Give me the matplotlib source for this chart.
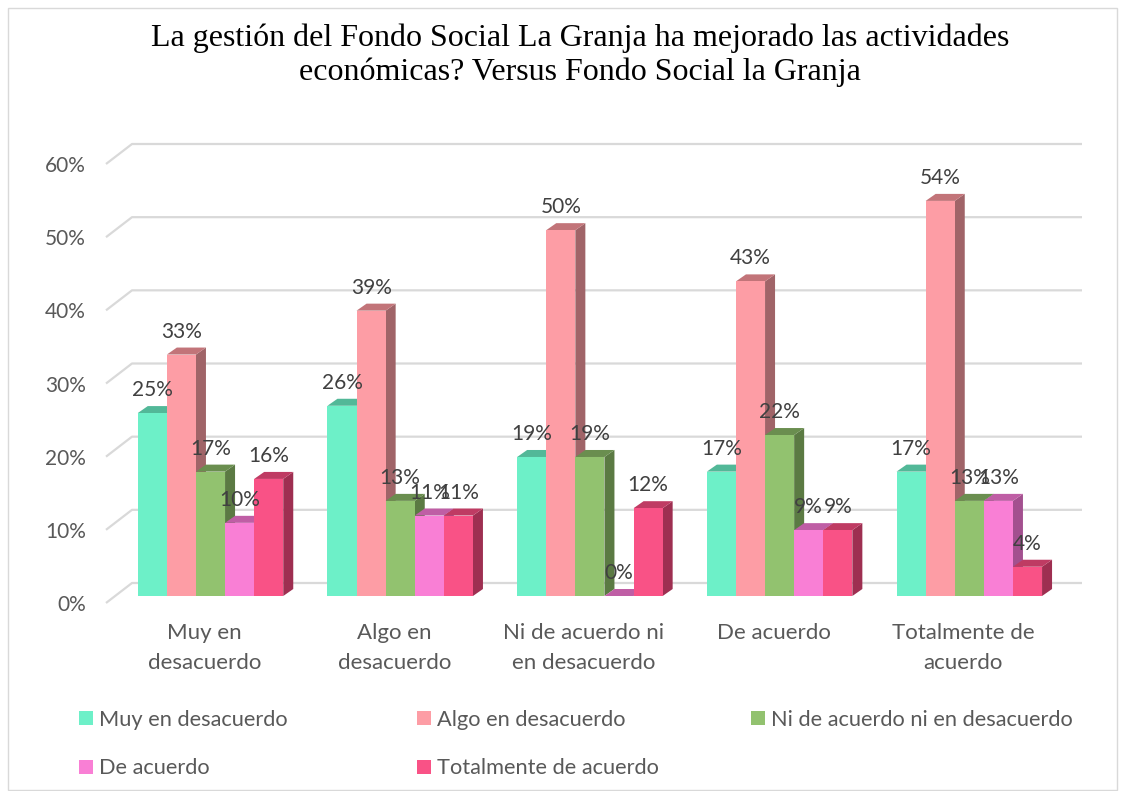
import matplotlib
matplotlib.use("Agg")
import matplotlib.pyplot as plt
from matplotlib.patches import Polygon, Rectangle, Patch
import matplotlib.transforms as mtransforms

# ---------------- data ----------------
title = "La gestión del Fondo Social La Granja ha mejorado las actividades\neconómicas? Versus Fondo Social la Granja"
categories = ["Muy en\ndesacuerdo", "Algo en\ndesacuerdo", "Ni de acuerdo ni\nen desacuerdo",
              "De acuerdo", "Totalmente de\nacuerdo"]
series_names = ["Muy en desacuerdo", "Algo en desacuerdo", "Ni de acuerdo ni en desacuerdo",
                "De acuerdo", "Totalmente de acuerdo"]
muy_en_desacuerdo = [25, 26, 19, 17, 17]
algo_en_desacuerdo = [33, 39, 50, 43, 54]
ni_de_acuerdo = [17, 13, 19, 22, 13]
de_acuerdo = [10, 11, 0, 9, 13]
totalmente_de_acuerdo = [16, 11, 12, 9, 4]
series_values = [muy_en_desacuerdo, algo_en_desacuerdo, ni_de_acuerdo, de_acuerdo, totalmente_de_acuerdo]
y_ticks = [0, 10, 20, 30, 40, 50, 60]

# ---------------- style ----------------
front_colors = ["#6DF0C8", "#FD9DA5", "#92C26F", "#F97FD5", "#F95286"]
top_colors = ["#52B898", "#C27479", "#6A8E4F", "#BF5EA5", "#BF3B63"]
side_colors = ["#4A9E86", "#A06468", "#5B7A43", "#A3508F", "#9E2F51"]
grid_color = "#D9D9D9"
text_gray = "#595959"
label_dark = "#404040"
FONT = "Lato"

W, H, DPI = 1123, 791, 100
fig = plt.figure(figsize=(W / DPI, H / DPI), dpi=DPI)
fig.patch.set_facecolor("white")

# axes placement in pixels (bar front plane)
ax_left_px, ax_right_px = 115, 1065
ax_bottom_px, ax_top_px = 596, 157  # from top of image
ax = fig.add_axes([ax_left_px / W, (H - ax_bottom_px) / H,
                   (ax_right_px - ax_left_px) / W, (ax_bottom_px - ax_top_px) / H])
center0_px, group_step_px = 210.5, 189.7
xlim0 = (ax_left_px - center0_px) / group_step_px
xlim1 = (ax_right_px - center0_px) / group_step_px
ax.set_xlim(xlim0, xlim1)
ax.set_ylim(0, 60)
for s in ax.spines.values():
    s.set_visible(False)
ax.set_facecolor("none")

# pixel -> data conversion
px_x = (xlim1 - xlim0) / (ax_right_px - ax_left_px)
px_y = 60.0 / (ax_bottom_px - ax_top_px)
def dxd(p):
    return p * px_x
def dyd(p):
    return p * px_y

# depth offsets (pixels)
DEPTH_X, DEPTH_Y = 10, 7
FRONT_X, FRONT_Y = -9, -7
BACK_X, BACK_Y = 17, 13

# gridlines (3D wall)
for v in y_ticks:
    xs = [xlim0 + dxd(FRONT_X), xlim0 + dxd(BACK_X), xlim1 + dxd(BACK_X)]
    ys = [v + dyd(FRONT_Y), v + dyd(BACK_Y), v + dyd(BACK_Y)]
    ax.plot(xs, ys, color=grid_color, lw=1.6, zorder=0.5, clip_on=False,
            solid_capstyle="butt")

# bars
n = len(series_values)
bw = 29.1 * px_x
for k, vals in enumerate(series_values):
    xpos = [i + (k - (n - 1) / 2) * bw for i in range(len(categories))]
    z = 2 + k
    ax.bar(xpos, vals, width=bw, color=front_colors[k], zorder=z + 0.2,
           clip_on=False, linewidth=0)
    for x, v in zip(xpos, vals):
        xl, xr = x - bw / 2, x + bw / 2
        ddx, ddy = dxd(DEPTH_X), dyd(DEPTH_Y)
        top = Polygon([(xl, v), (xr, v), (xr + ddx, v + ddy), (xl + ddx, v + ddy)],
                      closed=True, facecolor=top_colors[k], edgecolor="none",
                      zorder=z + 0.1, clip_on=False)
        side = Polygon([(xr, 0), (xr, v), (xr + ddx, v + ddy), (xr + ddx, ddy)],
                       closed=True, facecolor=side_colors[k], edgecolor="none",
                       zorder=z, clip_on=False)
        ax.add_patch(side)
        ax.add_patch(top)
        ax.annotate(f"{v}%", (x, v), xytext=(0, 13), textcoords="offset pixels",
                    ha="center", va="bottom", fontsize=15, color=label_dark,
                    family=FONT, zorder=20, annotation_clip=False)

# y ticks
ax.set_yticks(y_ticks)
ax.set_yticklabels([f"{v}%" for v in y_ticks], fontsize=15, color=text_gray, family=FONT)
ax.tick_params(axis="y", length=0, pad=(ax_left_px - 86) * 0.72)
shift_y = mtransforms.ScaledTranslation(0, -7 / DPI, fig.dpi_scale_trans)
for lab in ax.get_yticklabels():
    lab.set_transform(lab.get_transform() + shift_y)

# x ticks
ax.set_xticks(range(len(categories)))
ax.set_xticklabels(categories, fontsize=16, color=text_gray, family=FONT,
                   linespacing=1.6)
ax.tick_params(axis="x", length=0, pad=27 * 0.72)
shift_x = mtransforms.ScaledTranslation(-6 / DPI, 0, fig.dpi_scale_trans)
for lab in ax.get_xticklabels():
    lab.set_transform(lab.get_transform() + shift_x)

# title
fig.text(580 / W, 1 - 55 / H, title, ha="center", va="center", fontsize=23,
         family="Liberation Serif", color="#000000", linespacing=1.2)

# legend: three columns at fixed positions, rows as in the reference
handles = [Patch(facecolor=c, edgecolor="none") for c in front_colors]
columns = [([0, 3], 79), ([1, 4], 417), ([2], 751)]
for idx, xpx in columns:
    leg = fig.legend([handles[i] for i in idx], [series_names[i] for i in idx],
                     loc="upper left", bbox_to_anchor=(xpx / W, 1 - 710 / H),
                     frameon=False, prop={"family": FONT, "size": 15.7},
                     handlelength=0.63, handleheight=0.63, handletextpad=0.3,
                     labelspacing=1.3, borderpad=0, borderaxespad=0)
    for t in leg.get_texts():
        t.set_color(text_gray)

# outer border
fig.patches.append(Rectangle((8 / W, 1 / H), (1117 - 8) / W, (790 - 8) / H,
                             fill=False, edgecolor="#D9D9D9", lw=1,
                             transform=fig.transFigure, figure=fig))

fig.savefig("out.png", dpi=DPI, facecolor="white")
